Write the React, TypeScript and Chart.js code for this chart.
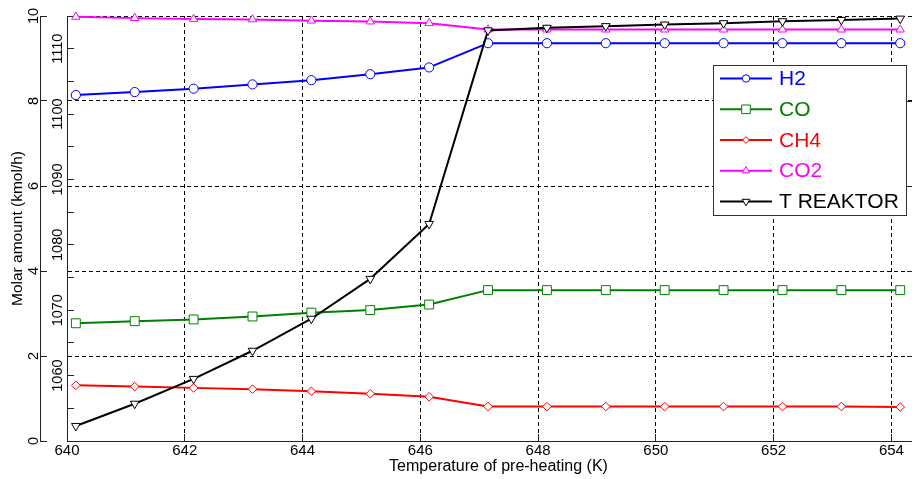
import React, { useEffect, useRef } from 'react';
import { Chart, registerables } from 'chart.js';

Chart.register(...registerables);

// ---- data ----
const preheatTemps = [640.15, 641.15, 642.15, 643.15, 644.15, 645.15, 646.15, 647.15, 648.15, 649.15, 650.15, 651.15, 652.15, 653.15, 654.15];
const h2 = [8.14, 8.21, 8.29, 8.39, 8.49, 8.63, 8.79, 9.36, 9.36, 9.36, 9.36, 9.36, 9.36, 9.36, 9.36];
const co = [2.77, 2.82, 2.86, 2.93, 3.02, 3.08, 3.21, 3.55, 3.55, 3.55, 3.55, 3.55, 3.55, 3.55, 3.55];
const ch4 = [1.31, 1.28, 1.25, 1.22, 1.17, 1.11, 1.04, 0.81, 0.81, 0.81, 0.81, 0.81, 0.81, 0.81, 0.8];
const co2 = [9.98, 9.95, 9.93, 9.92, 9.89, 9.87, 9.83, 9.68, 9.68, 9.68, 9.68, 9.68, 9.68, 9.68, 9.68];
const tReaktor = [1052.3, 1055.7, 1059.5, 1063.8, 1068.7, 1074.8, 1083.2, 1112.8, 1113.2, 1113.45, 1113.7, 1113.9, 1114.2, 1114.4, 1114.6];

const seriesLabels = ['H2', 'CO', 'CH4', 'CO2', 'T REAKTOR'];
const xTickValues = [640, 642, 644, 646, 648, 650, 652, 654];
const molarTickValues = [0, 2, 4, 6, 8, 10];
const tempTickValues = [1055, 1060, 1065, 1070, 1075, 1080, 1085, 1090, 1095, 1100, 1105, 1110, 1115];
const tempLabelValues = [1060, 1070, 1080, 1090, 1100, 1110];
const xAxisTitle = 'Temperature of pre-heating (K)';
const yAxisTitle = 'Molar amount (kmol/h)';

const FONT = '"Liberation Sans", Arial, Helvetica, sans-serif';
const AXIS = '#222222';
const legendMarkerRadius = [3.7, 6.1, 3.4, 4.2, 4.4];

function drawMarker(ctx: CanvasRenderingContext2D, style: string, x: number, y: number, r: number, rot: number) {
  ctx.beginPath();
  if (style === 'circle') {
    ctx.arc(x, y, r, 0, Math.PI * 2);
  } else if (style === 'rect') {
    const s = Math.SQRT1_2 * r;
    ctx.rect(x - s, y - s, 2 * s, 2 * s);
  } else if (style === 'rectRot') {
    ctx.moveTo(x - r, y);
    ctx.lineTo(x, y - r);
    ctx.lineTo(x + r, y);
    ctx.lineTo(x, y + r);
    ctx.closePath();
  } else if (style === 'triangle') {
    let a = (rot * Math.PI) / 180;
    ctx.moveTo(x + Math.sin(a) * r, y - Math.cos(a) * r);
    a += (2 * Math.PI) / 3;
    ctx.lineTo(x + Math.sin(a) * r, y - Math.cos(a) * r);
    a += (2 * Math.PI) / 3;
    ctx.lineTo(x + Math.sin(a) * r, y - Math.cos(a) * r);
    ctx.closePath();
  }
  ctx.fillStyle = '#ffffff';
  ctx.fill();
  ctx.stroke();
}

const decorPlugin = {
  id: 'decor',
  beforeDatasetsDraw(chart: any) {
    const { ctx, chartArea, scales } = chart;
    ctx.save();
    ctx.strokeStyle = AXIS;
    ctx.lineWidth = 1;
    ctx.setLineDash([]);
    molarTickValues.slice(1, -1).forEach((v) => {
      const y = Math.round(scales.y.getPixelForValue(v)) + 0.5;
      ctx.beginPath();
      ctx.moveTo(chartArea.right - 5, y);
      ctx.lineTo(chartArea.right, y);
      ctx.stroke();
    });
    ctx.restore();
  },
  afterDraw(chart: any) {
    const { ctx, chartArea } = chart;
    ctx.save();
    // x-axis title (centred on the full axes box, which extends slightly past the canvas)
    ctx.fillStyle = '#000';
    ctx.font = `16px ${FONT}`;
    ctx.textAlign = 'center';
    ctx.textBaseline = 'middle';
    ctx.fillText(xAxisTitle, (chartArea.left + chartArea.right) / 2 + 9, 466.5);

    // legend
    const left = 713.5, top = 65.5, w = 193, h = 150;
    ctx.setLineDash([]);
    ctx.fillStyle = '#ffffff';
    ctx.fillRect(left, top, w, h);
    ctx.strokeStyle = '#333333';
    ctx.lineWidth = 1;
    ctx.strokeRect(left, top, w, h);
    const rows = [78.5, 109.3, 140, 170.7, 201.5];
    chart.data.datasets.forEach((ds: any, i: number) => {
      const y = rows[i];
      ctx.strokeStyle = ds.borderColor;
      ctx.lineWidth = 2;
      ctx.beginPath();
      ctx.moveTo(720, y);
      ctx.lineTo(772, y);
      ctx.stroke();
      ctx.lineWidth = 1;
      drawMarker(ctx, ds.pointStyle, 746, y, legendMarkerRadius[i], ds.pointRotation || 0);
      ctx.fillStyle = ds.borderColor;
      ctx.font = `21px ${FONT}`;
      ctx.textBaseline = 'middle';
      ctx.textAlign = 'left';
      ctx.fillText(ds.label, 779, y + 1);
    });
    ctx.restore();
  },
};

function makeSeries(values: number[]) {
  return preheatTemps.map((x, i) => ({ x, y: values[i] }));
}

export default function App() {
  const ref = useRef<HTMLCanvasElement>(null);
  useEffect(() => {
    Chart.defaults.font.family = FONT;
    Chart.defaults.color = '#000';
    const common = { borderWidth: 2, pointBorderWidth: 1, pointBackgroundColor: '#ffffff', tension: 0, clip: false };
    const chart = new Chart(ref.current!, {
      type: 'line',
      data: {
        datasets: [
          { ...common, label: seriesLabels[0], data: makeSeries(h2), borderColor: '#0000ff', pointBorderColor: '#0000ff', pointStyle: 'circle', pointRadius: 4.6, yAxisID: 'y', order: 1 },
          { ...common, label: seriesLabels[1], data: makeSeries(co), borderColor: '#008000', pointBorderColor: '#008000', pointStyle: 'rect', pointRadius: 6.3, yAxisID: 'y', order: 1 },
          { ...common, label: seriesLabels[2], data: makeSeries(ch4), borderColor: '#ff0000', pointBorderColor: '#ff0000', pointStyle: 'rectRot', pointRadius: 4.3, yAxisID: 'y', order: 1 },
          { ...common, label: seriesLabels[3], data: makeSeries(co2), borderColor: '#ff00ff', pointBorderColor: '#ff00ff', pointStyle: 'triangle', pointRadius: 4.8, yAxisID: 'y', order: 1 },
          { ...common, label: seriesLabels[4], data: makeSeries(tReaktor), borderColor: '#000000', pointBorderColor: '#000000', pointStyle: 'triangle', pointRotation: 180, pointRadius: 5, yAxisID: 'y2', order: 0 },
        ] as any,
      },
      options: {
        responsive: false,
        animation: false,
        devicePixelRatio: 1,
        layout: { autoPadding: false, padding: { top: 16, right: 0, bottom: 0, left: 0 } },
        plugins: { legend: { display: false }, tooltip: { enabled: false } },
        elements: { line: { borderCapStyle: 'round', borderJoinStyle: 'round' } },
        scales: {
          x: {
            type: 'linear',
            min: 640,
            max: 654.35,
            afterBuildTicks: (s: any) => { s.ticks = xTickValues.map((v) => ({ value: v })); },
            afterFit: (s: any) => { s.height = 38; s.paddingLeft = 0; s.paddingRight = 0; },
            ticks: { autoSkip: false, maxRotation: 0, padding: 8, color: '#000', font: { size: 15 }, callback: (v: any) => String(v) },
            grid: { color: '#000', lineWidth: 1, tickLength: -7, tickColor: AXIS, tickWidth: 1 },
            border: { display: true, color: AXIS, width: 1, dash: [4, 3] },
            title: { display: false },
          },
          y: {
            type: 'linear',
            position: 'left',
            weight: 1,
            min: 0,
            max: 10,
            afterBuildTicks: (s: any) => { s.ticks = molarTickValues.map((v) => ({ value: v })); },
            afterFit: (s: any) => { s.width = 40; },
            ticks: { autoSkip: false, minRotation: 90, maxRotation: 90, crossAlign: 'center', padding: 5, color: '#000', font: { size: 14.5 }, callback: (v: any) => String(v) },
            grid: { color: '#000', lineWidth: 1, tickLength: -7, tickColor: AXIS, tickWidth: 1 },
            border: { display: true, color: AXIS, width: 1, dash: [4, 3] },
            title: { display: true, text: yAxisTitle, color: '#000', font: { size: 15.5 }, padding: { top: 8, bottom: 0 } },
          },
          y2: {
            type: 'linear',
            position: 'left',
            weight: 0,
            min: 1050,
            max: 1115,
            afterBuildTicks: (s: any) => { s.ticks = tempTickValues.map((v) => ({ value: v })); },
            afterFit: (s: any) => { s.width = 27; },
            ticks: {
              autoSkip: false, minRotation: 90, maxRotation: 90, crossAlign: 'center', padding: 0, color: '#000', font: { size: 14.5 },
              callback: (v: any) => (tempLabelValues.includes(Math.round(v)) ? String(Math.round(v)) : ''),
            },
            grid: { drawOnChartArea: false, tickLength: -7, tickColor: AXIS, tickWidth: 1 },
            border: { display: true, color: AXIS, width: 1 },
          },
        },
      } as any,
      plugins: [decorPlugin],
    });
    return () => chart.destroy();
  }, []);
  return (
    <div style={{ position: 'fixed', left: 0, top: 0, width: 912, height: 479, background: '#fff' }}>
      <canvas ref={ref} width={912} height={479} style={{ display: 'block' }} />
    </div>
  );
}
